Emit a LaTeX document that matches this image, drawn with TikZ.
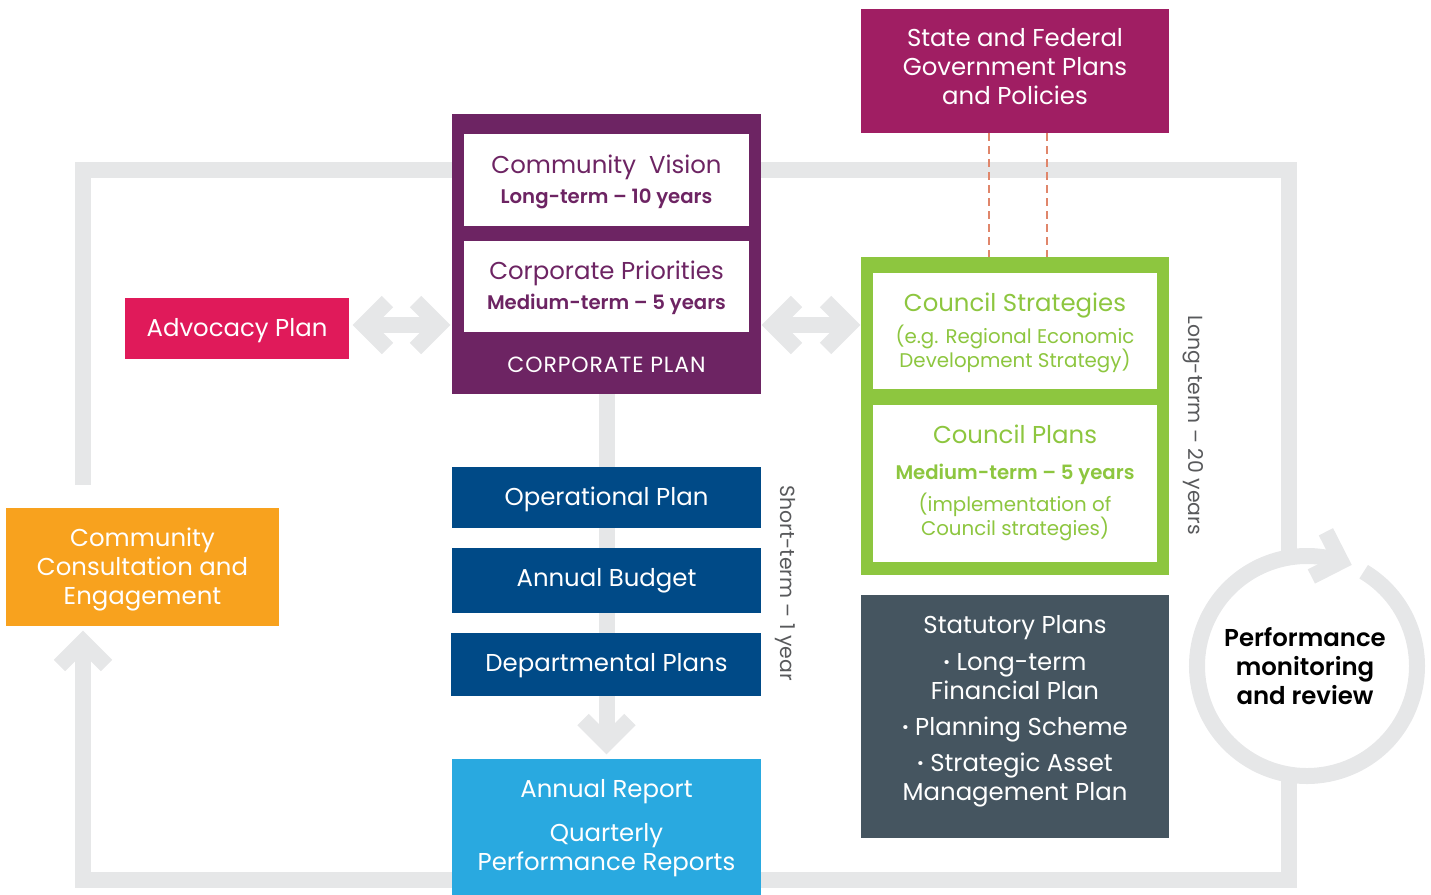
\documentclass[tikz,border=0pt]{standalone}
\usepackage{fontspec}
\setmainfont{Poppins}[BoldFont={Poppins SemiBold}]
\usetikzlibrary{backgrounds,calc}
\definecolor{loopgray}{HTML}{E6E7E8}
\definecolor{statec}{HTML}{A01E63}
\definecolor{corpc}{HTML}{6D2463}
\definecolor{advc}{HTML}{E01A5A}
\definecolor{greenc}{HTML}{8DC63F}
\definecolor{bluec}{HTML}{004A87}
\definecolor{lbluec}{HTML}{29A9E0}
\definecolor{slatec}{HTML}{455560}
\definecolor{orangec}{HTML}{F8A21E}
\definecolor{dashc}{HTML}{E0866B}
\definecolor{labelc}{HTML}{58595B}
\newcommand\fA{\fontsize{12.2}{14}\selectfont}
\newcommand\fB{\fontsize{10.2}{12}\selectfont}
\newcommand\fE{\fontsize{9.85}{12}\selectfont\bfseries}
\newcommand\fC{\fontsize{9.9}{12}\selectfont}
\newcommand\fD{\fontsize{11}{13}\selectfont\addfontfeatures{LetterSpace=4}}
\tikzset{
  blk/.style={inner sep=0pt, outer sep=0pt, draw=none},
  t/.style={anchor=base, inner sep=0pt, outer sep=0pt},
  loopline/.style={draw=loopgray, line width=8pt, line join=miter},
  dashl/.style={draw=dashc, line width=1.4pt, dash pattern=on 4pt off 2.5pt},
  chev/.pic={\draw[loopline] (-23.5,-23.5) -- (0,0) -- (-23.5,23.5);}
}
\begin{document}
\begin{tikzpicture}[x=0.5pt,y=-0.5pt]
\useasboundingbox (0,0) rectangle (1431,895);
% boxes
\node[blk, fill=statec, minimum width=154pt, minimum height=62pt] (state) at (1015,71) {};
\node[blk, fill=corpc, minimum width=154.5pt, minimum height=140pt] (corp) at (606.5,254) {};
\node[blk, fill=white, minimum width=142.5pt, minimum height=46pt] (vision) at (606.5,180) {};
\node[blk, fill=white, minimum width=142.5pt, minimum height=45.5pt] (prior) at (606.5,286.5) {};
\node[blk, fill=advc, minimum width=112pt, minimum height=30.5pt] (adv) at (237,328.5) {};
\node[blk, fill=greenc, minimum width=154pt, minimum height=159pt] (green) at (1015,416) {};
\node[blk, fill=white, minimum width=142pt, minimum height=58pt] (strat) at (1015,331) {};
\node[blk, fill=white, minimum width=142pt, minimum height=78.5pt] (cplans) at (1015,483.5) {};
\node[blk, fill=bluec, minimum width=154.5pt, minimum height=30.5pt] (op) at (606.5,497.5) {};
\node[blk, fill=bluec, minimum width=154.5pt, minimum height=32.5pt] (budget) at (606.5,580.5) {};
\node[blk, fill=bluec, minimum width=155pt, minimum height=31.5pt] (dept) at (606,664.5) {};
\node[blk, fill=lbluec, minimum width=154.5pt, minimum height=68pt] (report) at (606.5,827) {};
\node[blk, fill=slatec, minimum width=154pt, minimum height=121.5pt] (stat) at (1015,716.5) {};
\node[blk, fill=orangec, minimum width=136.5pt, minimum height=59pt] (comm) at (142.5,567) {};
\coordinate (perf) at (1307,666);
% texts
\node[t, text=white, font=\fA] (st1) at (1015,46) {State and Federal};
\node[t, text=white, font=\fA] (st2) at (1015,75) {Government Plans};
\node[t, text=white, font=\fA] (st3) at (1015,104) {and Policies};
\node[t, text=corpc, font=\fA] (vi1) at (606.5,173) {Community~~Vision};
\node[t, text=corpc, font=\fE] (vi2) at (606.5,203) {Long-term – 10 years};
\node[t, text=corpc, font=\fA] (pr1) at (606.5,279) {Corporate Priorities};
\node[t, text=corpc, font=\fE] (pr2) at (606.5,309) {Medium-term – 5 years};
\node[t, text=white, font=\fD] (cp) at (606.5,372) {CORPORATE PLAN};
\node[t, text=white, font=\fA] (ad1) at (237,336) {Advocacy Plan};
\node[t, text=greenc, font=\fA] (cs1) at (1015,311) {Council Strategies};
\node[t, text=greenc, font=\fC] (cs2) at (1015,343) {(e.g. Regional Economic};
\node[t, text=greenc, font=\fC] (cs3) at (1015,367) {Development Strategy)};
\node[t, text=greenc, font=\fA] (cl1) at (1015,443) {Council Plans};
\node[t, text=greenc, font=\fE] (cl2) at (1015,479) {Medium-term – 5 years};
\node[t, text=greenc, font=\fC] (cl3) at (1015,511) {(implementation of};
\node[t, text=greenc, font=\fC] (cl4) at (1015,535) {Council strategies)};
\node[t, text=white, font=\fA] (opt) at (606.5,505) {Operational Plan};
\node[t, text=white, font=\fA] (bgt) at (606.5,586) {Annual Budget};
\node[t, text=white, font=\fA] (dpt) at (606.5,671) {Departmental Plans};
\node[t, text=white, font=\fA] (rp1) at (606.5,797) {Annual Report};
\node[t, text=white, font=\fA] (rp2) at (606.5,841) {Quarterly};
\node[t, text=white, font=\fA] (rp3) at (606.5,870) {Performance Reports};
\node[t, text=white, font=\fA] (sp1) at (1015,633) {Statutory Plans};
\node[t, text=white, font=\fA] (sp2) at (1015,670) {\textbf{·} Long-term};
\node[t, text=white, font=\fA] (sp3) at (1015,699) {Financial Plan};
\node[t, text=white, font=\fA] (sp4) at (1015,735) {\textbf{·} Planning Scheme};
\node[t, text=white, font=\fA] (sp5) at (1015,771) {\textbf{·} Strategic Asset};
\node[t, text=white, font=\fA] (sp6) at (1015,800) {Management Plan};
\node[t, text=white, font=\fA] (cc1) at (142.5,546) {Community};
\node[t, text=white, font=\fA] (cc2) at (142.5,575) {Consultation and};
\node[t, text=white, font=\fA] (cc3) at (142.5,604) {Engagement};
\node[t, text=black, font=\fA\bfseries] (pf1) at (1305,646) {Performance};
\node[t, text=black, font=\fA\bfseries] (pf2) at (1305,675) {monitoring};
\node[t, text=black, font=\fA\bfseries] (pf3) at (1305,704) {and review};
\node[t, text=labelc, font=\fB, rotate=-90] (lt20) at (1188,425) {Long-term – 20 years};
\node[t, text=labelc, font=\fB, rotate=-90] (st1y) at (780,583) {Short-term – 1 year};
% connectors
\coordinate (loopTL) at (83,170);
\coordinate (loopTR) at (1289,170);
\coordinate (loopBL) at (83,880);
\coordinate (loopBR) at (1289,880);
\coordinate (loopL) at (83,485);
\coordinate (loopRt) at (1289,556);
\coordinate (loopRb) at (1289,778);
\coordinate (upTip) at (83,642);
\coordinate (downTip) at ($(report.north)+(0,-16)$);
\coordinate (a1) at ($(adv.east)+(15,-3.5)$);
\coordinate (a2) at ($(corp.west |- a1)+(-13,0)$);
\coordinate (b1) at ($(corp.east |- a1)+(12,0)$);
\coordinate (b2) at ($(green.west |- a1)+(-12,0)$);
\begin{scope}[on background layer]
\draw[loopline] (loopL) -- (loopTL) -- (loopTR) -- (loopRt);
\draw[loopline] (upTip) -- (loopBL) -- (loopBR) -- (loopRb);
\pic[rotate=90] at (upTip) {chev};
\draw[loopline] (perf) ++(-59:110) arc[start angle=-59, end angle=288, radius=110];
\pic[rotate=-18] at ($(perf)+(288:110)$) {chev};
\draw[loopline] (corp.south) -- (downTip);
\pic[rotate=-90] at (downTip) {chev};
\draw[loopline] (a1) -- (a2);
\pic[rotate=180] at (a1) {chev};
\pic at (a2) {chev};
\draw[loopline] (b1) -- (b2);
\pic[rotate=180] at (b1) {chev};
\pic at (b2) {chev};
\draw[dashl] ($(state.south)+(-26,0)$) -- ($(green.north)+(-26,0)$);
\draw[dashl] ($(state.south)+(32,0)$) -- ($(green.north)+(32,0)$);
\end{scope}
\end{tikzpicture}
\end{document}
